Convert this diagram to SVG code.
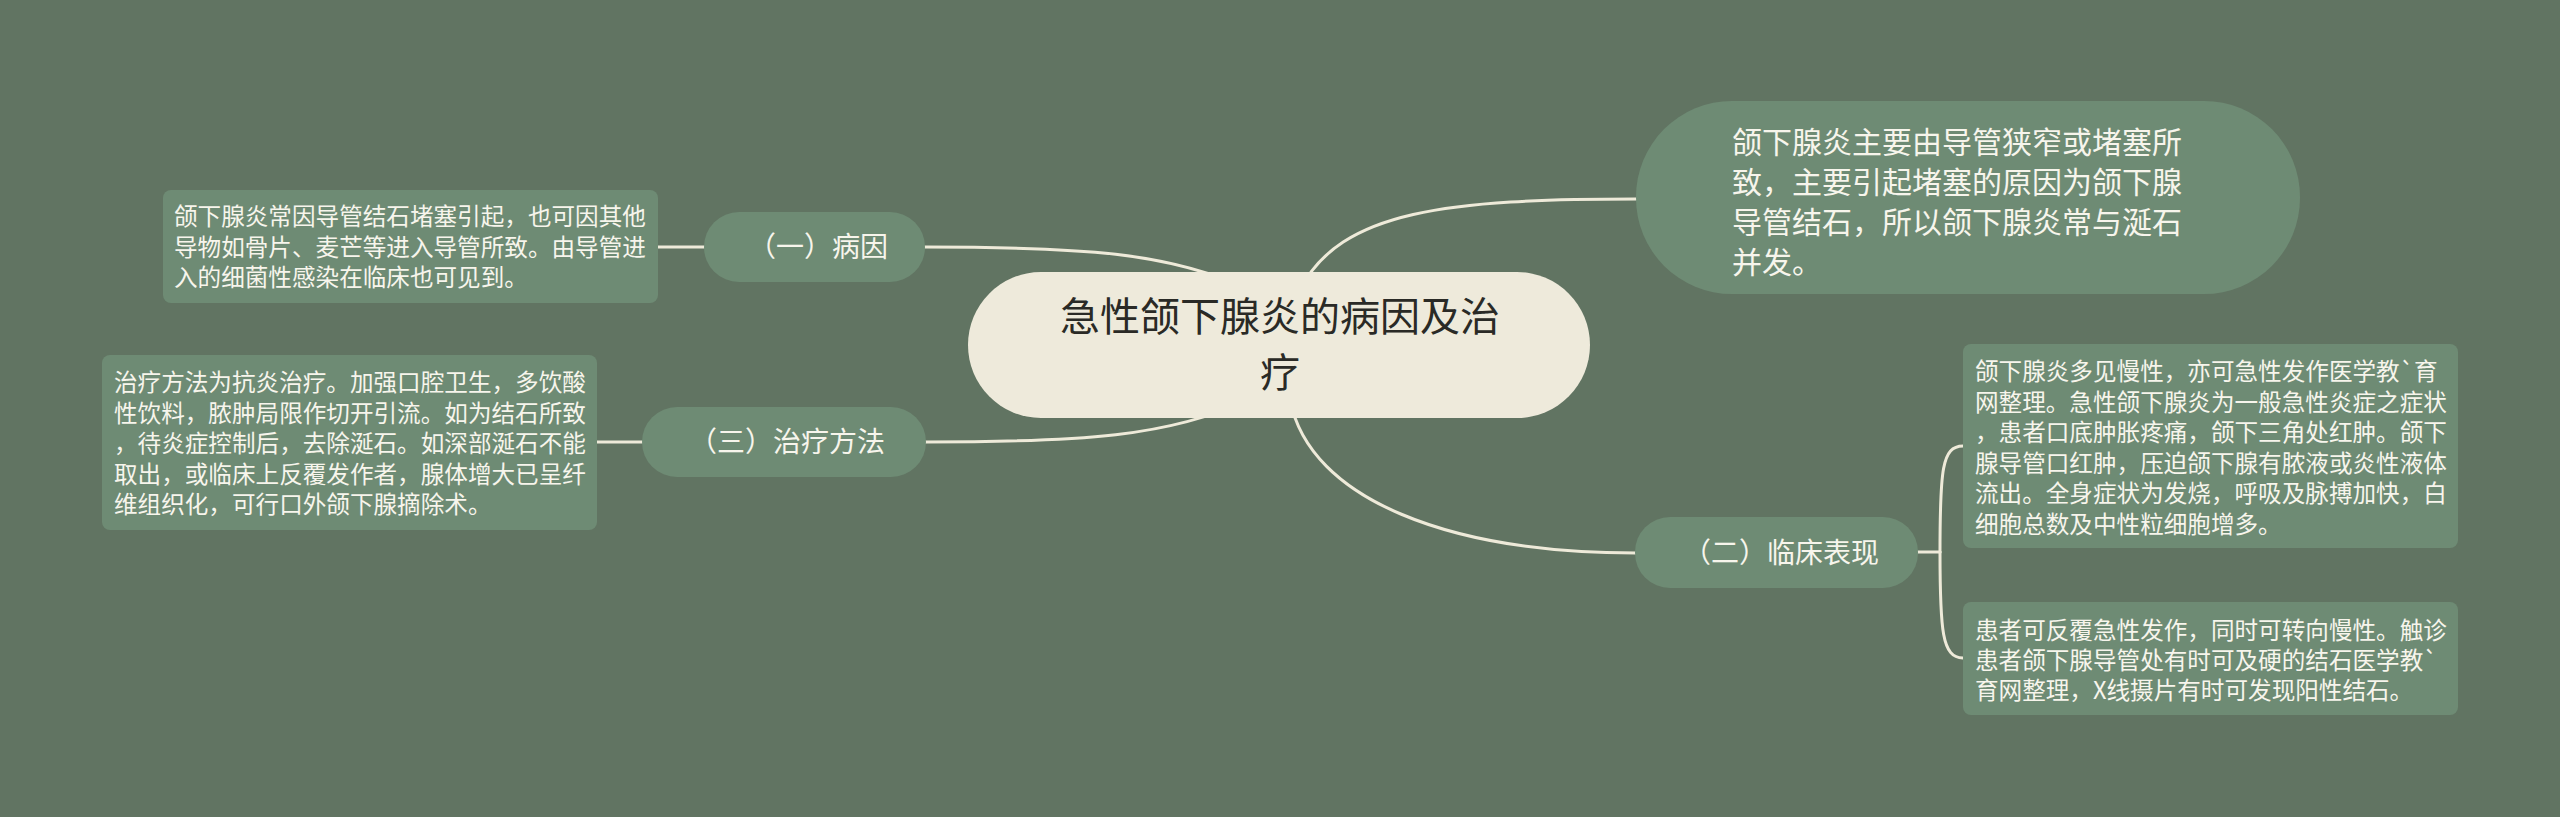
<svg xmlns="http://www.w3.org/2000/svg" width="2560" height="817" viewBox="0 0 2560 817">
<style>
.bg{fill:#617462}
.conn{fill:none;stroke:#EEEAD9;stroke-width:3;stroke-linecap:round}
.root{fill:#EEEADB}
.sub{fill:#6E8B74}
.t{font-family:"Noto Sans CJK SC","Noto Sans",sans-serif;fill:#F7F5EC}
.rt{font-family:"Noto Sans CJK SC","Noto Sans",sans-serif;fill:#2A2A26;font-size:40px;text-anchor:middle}
.s28{font-size:28px;text-anchor:middle}
.s30{font-size:30px}
.s23{font-size:23.6px}
</style>
<rect class="bg" x="0" y="0" width="2560" height="817"/>
<g id="connectors">
<path class="conn" d="M658,247 L704,247"/>
<path class="conn" d="M597,442 L642,442"/>
<path class="conn" d="M925,247 C1080,247 1170,252 1250,290"/>
<path class="conn" d="M925,442 C1080,442 1170,437 1250,399"/>
<path class="conn" d="M1636,199 C1450,199 1340,210 1300,290"/>
<path class="conn" d="M1636,553 C1450,553 1310,500 1290,400"/>
<path class="conn" d="M1918,552 L1940,552"/>
<path class="conn" d="M1940,552 C1940,470 1942,446 1963,446"/>
<path class="conn" d="M1940,552 C1940,630 1942,658 1963,658"/>
</g>
<g id="root">
<rect class="root" x="968" y="272" width="622" height="146" rx="73"/>
<text class="rt" x="1280" y="331">急性颌下腺炎的病因及治</text>
<text class="rt" x="1280" y="387">疗</text>
</g>
<g id="node-cause">
<rect class="sub" x="704" y="212" width="221" height="70" rx="35"/>
<text class="t s28" x="818" y="257">（一）病因</text>
</g>
<g id="node-cause-detail">
<rect class="sub" x="163" y="190" width="495" height="113" rx="8"/>
<text class="t s23" x="174" y="225">颌下腺炎常因导管结石堵塞引起，也可因其他</text>
<text class="t s23" x="174" y="255.5">导物如骨片、麦芒等进入导管所致。由导管进</text>
<text class="t s23" x="174" y="286">入的细菌性感染在临床也可见到。</text>
</g>
<g id="node-treat">
<rect class="sub" x="642" y="407" width="284" height="70" rx="35"/>
<text class="t s28" x="787" y="452">（三）治疗方法</text>
</g>
<g id="node-treat-detail">
<rect class="sub" x="102" y="355" width="495" height="175" rx="8"/>
<text class="t s23" x="114" y="391.3">治疗方法为抗炎治疗。加强口腔卫生，多饮酸</text>
<text class="t s23" x="114" y="421.8">性饮料，脓肿局限作切开引流。如为结石所致</text>
<text class="t s23" x="114" y="452.3">，待炎症控制后，去除涎石。如深部涎石不能</text>
<text class="t s23" x="114" y="482.8">取出，或临床上反覆发作者，腺体增大已呈纤</text>
<text class="t s23" x="114" y="513.3">维组织化，可行口外颌下腺摘除术。</text>
</g>
<g id="node-summary">
<rect class="sub" x="1636" y="101" width="664" height="193" rx="96"/>
<text class="t s30" x="1732" y="152.5">颌下腺炎主要由导管狭窄或堵塞所</text>
<text class="t s30" x="1732" y="192.5">致，主要引起堵塞的原因为颌下腺</text>
<text class="t s30" x="1732" y="232.5">导管结石，所以颌下腺炎常与涎石</text>
<text class="t s30" x="1732" y="272.5">并发。</text>
</g>
<g id="node-clinical">
<rect class="sub" x="1635" y="517" width="283" height="71" rx="35"/>
<text class="t s28" x="1781" y="563">（二）临床表现</text>
</g>
<g id="node-clinical-detail1">
<rect class="sub" x="1963" y="344" width="495" height="204" rx="8"/>
<text class="t s23" x="1975" y="380.3">颌下腺炎多见慢性，亦可急性发作医学教`育</text>
<text class="t s23" x="1975" y="410.8">网整理。急性颌下腺炎为一般急性炎症之症状</text>
<text class="t s23" x="1975" y="441.3">，患者口底肿胀疼痛，颌下三角处红肿。颌下</text>
<text class="t s23" x="1975" y="471.8">腺导管口红肿，压迫颌下腺有脓液或炎性液体</text>
<text class="t s23" x="1975" y="502.3">流出。全身症状为发烧，呼吸及脉搏加快，白</text>
<text class="t s23" x="1975" y="532.8">细胞总数及中性粒细胞增多。</text>
</g>
<g id="node-clinical-detail2">
<rect class="sub" x="1963" y="602" width="495" height="113" rx="8"/>
<text class="t s23" x="1975" y="639.3">患者可反覆急性发作，同时可转向慢性。触诊</text>
<text class="t s23" x="1975" y="669.3">患者颌下腺导管处有时可及硬的结石医学教`</text>
<text class="t s23" x="1975" y="699.3">育网整理，X线摄片有时可发现阳性结石。</text>
</g>
</svg>
